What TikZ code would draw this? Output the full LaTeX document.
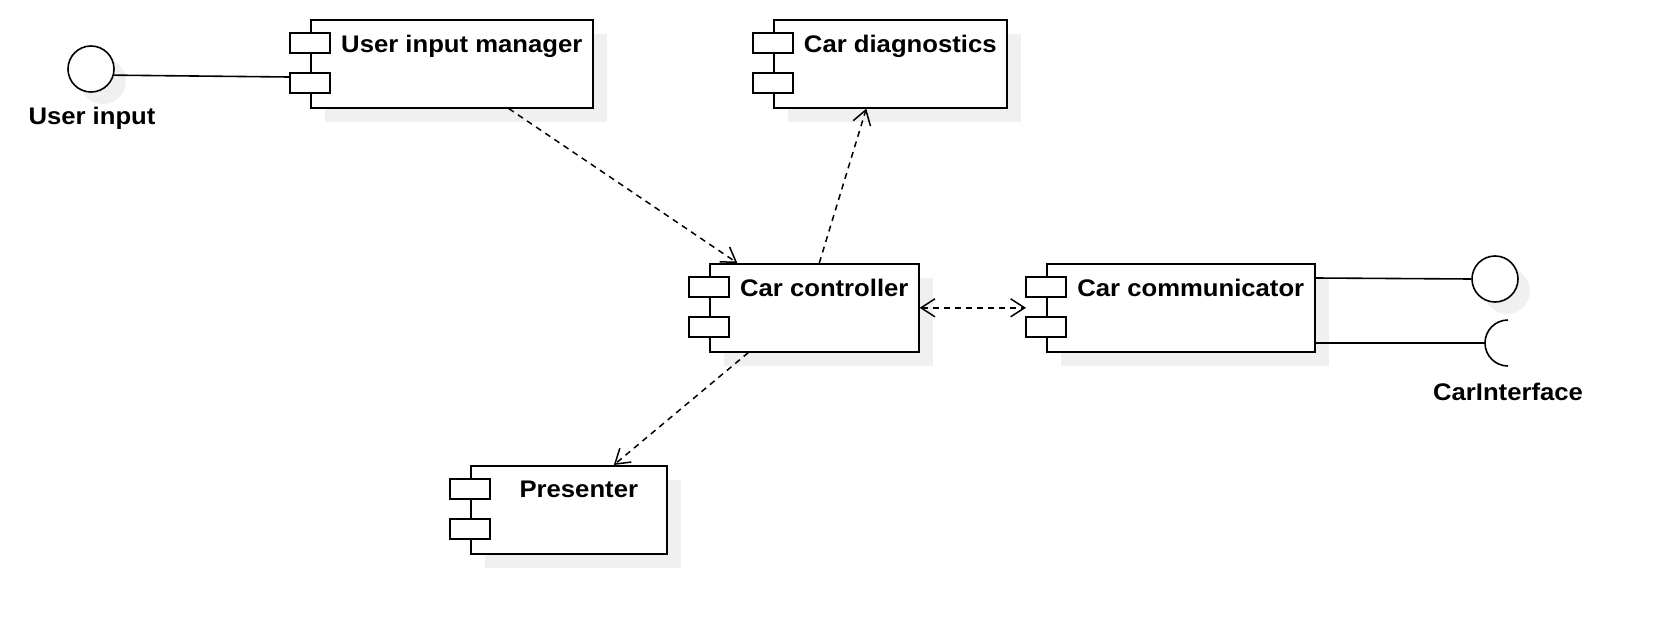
\documentclass[tikz,border=0pt]{standalone}
\usepackage{fontspec}
\setmainfont{Liberation Sans}[BoldFeatures={FakeStretch=1.07}]
\usetikzlibrary{arrows.meta,shadows}

\tikzset{
  compbox/.style={draw, line width=1.6pt, fill=white, minimum height=88pt, inner sep=0pt, anchor=north west,
    general shadow={fill=black!6, shadow xshift=14pt, shadow yshift=-14pt}},
  compport/.style={draw, line width=1.6pt, fill=white, minimum width=40pt, minimum height=20pt, inner sep=0pt},
  comptext/.style={font=\bfseries\fontsize{24}{28}\selectfont, anchor=north, inner sep=0pt},
  ifacetext/.style={font=\bfseries\fontsize{24}{28}\selectfont, inner sep=0pt},
  iface/.style={circle, draw, line width=1.6pt, fill=white, minimum size=46pt, inner sep=0pt,
    general shadow={fill=black!6, shadow xshift=12pt, shadow yshift=-12pt}},
  dep/.style={line width=1.5pt, dash pattern=on 6pt off 5pt},
  wire/.style={line width=1.6pt},
  >={Straight Barb[length=14pt,width=18pt]}
}

\begin{document}
\begin{tikzpicture}[x=1pt,y=-1pt]
  \useasboundingbox (0,0) rectangle (1674,634);
  % components
  \foreach \n/\x/\y/\w/\t in {uim/310/19/282/User input manager, diag/773/19/233/Car diagnostics,
      ctrl/709/263/209/Car controller, comm/1046/263/268/Car communicator, pres/470/465/196/Presenter} {
    \node[compbox, minimum width=\w pt] (\n) at (\x,\y) {};
    \node[compport] (\n-p1) at ([yshift=-24pt]\n.north west) {};
    \node[compport] (\n-p2) at ([yshift=-64pt]\n.north west) {};
    \node[comptext] (\n-t) at ([xshift=10pt,yshift=-16pt]\n.north) {\t};
  }
  % interfaces
  \node[iface] (uin) at (91,69) {};
  \node[ifacetext] (uin-t) at (92,118) {User input};
  \node[iface] (ci-prov) at (1495,279) {};
  \coordinate (ci-req) at (1508,343);
  \node[ifacetext] (ci-t) at (1508,392) {CarInterface};
  \draw[wire] (uin.-15) -- ([yshift=6pt]uim-p2.west);
  \draw[wire] ([yshift=-15pt]comm.north east) -- (ci-prov.west);
  \draw[wire] ([yshift=-80pt]comm.north east) -- ([xshift=-23pt]ci-req);
  \draw[wire] ([yshift=23pt]ci-req) arc[start angle=90, end angle=270, radius=23pt];
  % dependencies
  \draw[dep,->] ([xshift=57pt]uim.south) -- ([xshift=-77pt]ctrl.north);
  \draw[dep,->] ([xshift=5pt]ctrl.north) -- ([xshift=-24pt]diag.south);
  \draw[dep,->] ([xshift=-66pt]ctrl.south) -- ([xshift=45pt]pres.north);
  \draw[dep,<->] (ctrl.east) -- ([xshift=-20pt]comm.west);
\end{tikzpicture}
\end{document}
